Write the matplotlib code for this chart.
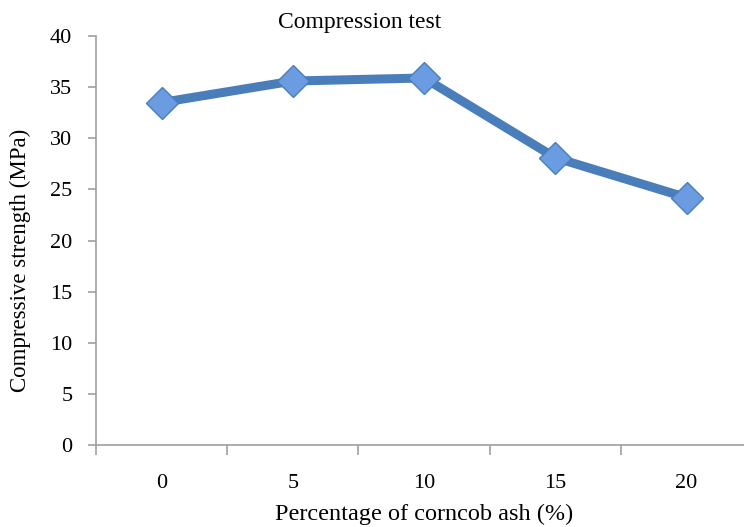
import numpy as np
import matplotlib.pyplot as plt

# data
ash_pct = ['0', '5', '10', '15', '20']
strength = [33.5, 35.6, 35.9, 28.1, 24.2]

plt.rcParams['font.family'] = ['Liberation Serif', 'DejaVu Serif']

fig = plt.figure(figsize=(7.44, 5.27), dpi=100)
ax = fig.add_axes([0.129, 0.1556, 0.882, 0.776])

x = np.arange(len(ash_pct))
ax.plot(x, strength, color='#4a7ebb', lw=6.5, solid_capstyle='round',
        marker='D', markersize=16, markerfacecolor='#6b9be0',
        markeredgecolor='#4a7ebb', markeredgewidth=1, zorder=3)

ax.set_xlim(-0.5, len(ash_pct) - 0.5)
ax.set_ylim(0, 40)
ax.set_yticks(np.arange(0, 41, 5))
ax.set_xticks(x)
ax.set_xticklabels(ash_pct)
ax.set_xticks(np.arange(-0.5, len(ash_pct), 1), minor=True)

for s in ['top', 'right']:
    ax.spines[s].set_visible(False)
for s in ['left', 'bottom']:
    ax.spines[s].set_color('#a0a0a0')
    ax.spines[s].set_linewidth(1.2)

ax.tick_params(axis='x', which='major', length=0, pad=21, labelsize=16)
ax.tick_params(axis='x', which='minor', length=7, color='#a0a0a0', width=1.2)
ax.tick_params(axis='y', length=6, color='#a0a0a0', width=1.2, labelsize=16, pad=11)

fig.text(0.027, 0.505, 'Compressive strength (MPa)', rotation=90, ha='center', va='center', fontsize=16.5)
fig.text(0.57, 0.023, 'Percentage of corncob ash (%)', ha='center', va='center', fontsize=17.5)
fig.text(0.484, 0.958, 'Compression test', ha='center', va='center', fontsize=17)

fig.savefig('out.png', dpi=100)
